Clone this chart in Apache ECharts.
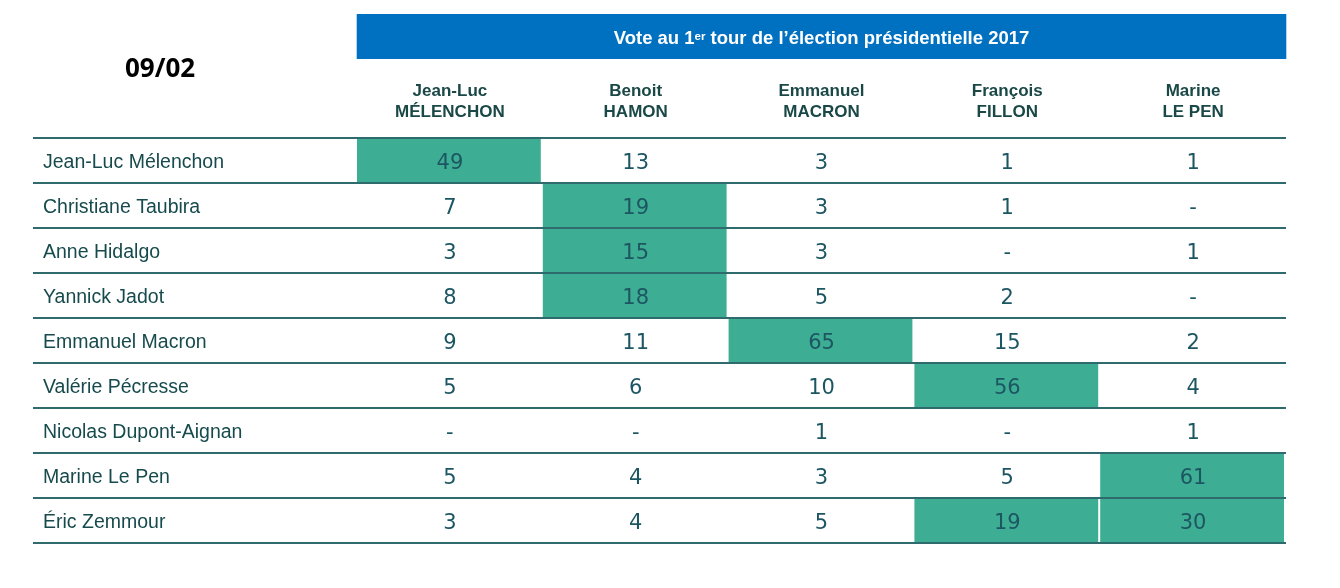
<!DOCTYPE html>
<html>
<head>
<meta charset="utf-8">
<script src="https://cdn.jsdelivr.net/npm/echarts@6/dist/echarts.min.js"></script>
<style>
html, body { margin: 0; padding: 0; background: #fff; }
#main { width: 1340px; height: 588px; }
</style>
</head>
<body>
<div id="main"></div>
<script>
var dom = document.getElementById('main');
var myChart = echarts.init(dom, null, { renderer: 'canvas' });

// 2022 candidates (rows)
const rowNames = ['Jean-Luc Mélenchon', 'Christiane Taubira', 'Anne Hidalgo', 'Yannick Jadot',
  'Emmanuel Macron', 'Valérie Pécresse', 'Nicolas Dupont-Aignan', 'Marine Le Pen', 'Éric Zemmour'];
// 2017 first-round vote (columns)
const colNames = ['Jean-Luc\nMÉLENCHON', 'Benoit\nHAMON', 'Emmanuel\nMACRON', 'François\nFILLON', 'Marine\nLE PEN'];

// null = "-"
const melenchon2017 = [49, 7, 3, 8, 9, 5, null, 5, 3];
const hamon2017 = [13, 19, 15, 18, 11, 6, null, 4, 4];
const macron2017 = [3, 3, 3, 5, 65, 10, 1, 3, 5];
const fillon2017 = [1, 1, null, 2, 15, 56, null, 5, 19];
const lepen2017 = [1, null, 1, null, 2, 4, 1, 61, 30];
const columns = [melenchon2017, hamon2017, macron2017, fillon2017, lepen2017];

// highlighted cells [col, row]
const highlighted = [[0, 0], [1, 1], [1, 2], [1, 3], [2, 4], [3, 5], [4, 7], [3, 8], [4, 8]];

var cells = [];
columns.forEach(function (col, c) {
  col.forEach(function (v, r) {
    var hl = highlighted.some(function (h) { return h[0] === c && h[1] === r; }) ? 1 : 0;
    cells.push([c, r, v === null ? 0 : v, hl]);
  });
});
function cellText(i) {
  var v = columns[cells[i][0]][cells[i][1]];
  return v === null ? '-' : String(v);
}

var option = {
  backgroundColor: '#fff',
  animation: false,
  title: {
    text: '09/02',
    left: 120,
    top: 52,
    textStyle: { fontFamily: 'Open Sans', fontWeight: 'bold', fontSize: 26, color: '#000' }
  },
  grid: [
    { left: 33, right: 54, top: 138, bottom: 45 },
    { left: 357, right: 54, top: 138, bottom: 45 }
  ],
  xAxis: [
    { gridIndex: 0, type: 'value', show: false },
    {
      gridIndex: 1,
      type: 'category',
      position: 'top',
      data: colNames,
      axisLine: { show: false },
      axisTick: { show: false },
      axisLabel: {
        margin: 15,
        fontFamily: 'Liberation Sans',
        fontWeight: 'bold',
        fontSize: 17,
        lineHeight: 21,
        color: '#1a4847'
      },
      name: 'Vote au 1{sup|er} tour de l’élection présidentielle 2017',
      nameLocation: 'middle',
      nameGap: 79,
      nameTextStyle: {
        height: 45,
        lineHeight: 50,
        padding: [0, 257, 0, 257],
        align: 'center',
        verticalAlign: 'bottom',
        backgroundColor: '#0070c0',
        color: '#fff',
        fontFamily: 'Liberation Sans',
        fontWeight: 'bold',
        fontSize: 18.5,
        rich: {
          sup: {
            fontFamily: 'Liberation Sans',
            fontWeight: 'bold',
            fontSize: 11.5,
            color: '#fff',
            verticalAlign: 'top',
            padding: [17, 0, 0, 0]
          }
        }
      }
    }
  ],
  yAxis: [
    {
      gridIndex: 0,
      type: 'category',
      inverse: true,
      data: rowNames,
      z: 5,
      axisLine: { show: false },
      axisTick: { show: false },
      axisLabel: {
        inside: true,
        margin: 10,
        formatter: '{a|{value}}',
        rich: {
          a: {
            fontFamily: 'Liberation Sans',
            fontSize: 19.5,
            color: '#174a4c',
            padding: [5, 0, 0, 0]
          }
        }
      },
      splitLine: { show: true, lineStyle: { color: '#2f6a6c', width: 2 } }
    },
    {
      gridIndex: 1,
      type: 'category',
      inverse: true,
      data: rowNames,
      show: false
    }
  ],
  series: [
    {
      type: 'custom',
      xAxisIndex: 1,
      yAxisIndex: 1,
      z: 2,
      data: cells,
      renderItem: function (params, api) {
        var center = api.coord([api.value(0), api.value(1)]);
        var size = api.size([1, 1]);
        var children = [];
        if (api.value(3)) {
          children.push({
            type: 'rect',
            shape: { x: center[0] - size[0] / 2, y: center[1] - size[1] / 2, width: size[0] - 2, height: size[1] },
            style: { fill: '#3dae93' }
          });
        }
        children.push({
          type: 'text',
          style: {
            x: center[0],
            y: center[1] + 3,
            text: cellText(params.dataIndex),
            align: 'center',
            verticalAlign: 'middle',
            fontFamily: 'DejaVu Sans',
            fontSize: 21,
            fill: '#1c5662'
          }
        });
        return { type: 'group', children: children };
      }
    }
  ]
};

myChart.setOption(option);
</script>
</body>
</html>
